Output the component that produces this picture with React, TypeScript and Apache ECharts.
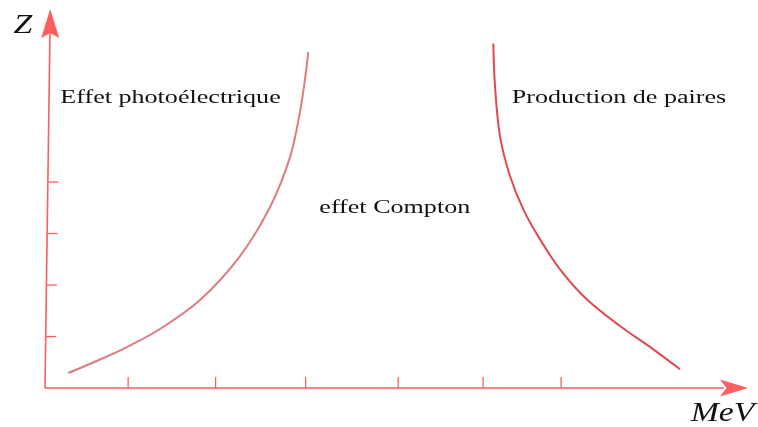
import React, { useEffect, useRef } from "react";
import * as echarts from "echarts";

// Tick positions (axis units)
const xTicks = [0.97, 1.99, 3.04, 4.12, 5.11, 6.02];
const yTicks = [1, 2, 3, 4];

// Axis extents
const xAxisEnd = 8.2;
const yAxisEnd = 7.36;
const yAxisTopX = 0.061;

// Photoelectric effect boundary
const photoX = [0.272, 0.642, 0.991, 1.341, 1.808, 2.275, 2.625, 2.858, 2.974, 3.039, 3.071];
const photoY = [0.291, 0.553, 0.825, 1.146, 1.709, 2.563, 3.515, 4.485, 5.359, 6.078, 6.524];

// Pair production boundary
const pairX = [5.229, 5.249, 5.307, 5.424, 5.579, 5.774, 6.007, 6.319, 6.707, 7.096, 7.407];
const pairY = [6.693, 5.864, 4.893, 4.117, 3.47, 2.887, 2.305, 1.722, 1.204, 0.751, 0.363];

// Region labels
const regionLabels = ["Effet photoélectrique", "effet Compton", "Production de paires"];
const regionX = [1.464, 4.08, 6.695];
const regionY = [5.65, 3.515, 5.66];

// Axis titles
const axisTitles = ["Z", "MeV"];
const axisTitleX = [-0.257, 7.903];
const axisTitleY = [7.06, -0.476];

const AXIS_COLOR = "#ff5e5e";

export default function App() {
  const ref = useRef<HTMLDivElement>(null);
  useEffect(() => {
    if (!ref.current) return;
    const chart = echarts.init(ref.current, null, { renderer: "svg" });

    const axesRender = (params: any, api: any) => {
      const o = api.coord([0, 0]);
      const xt = api.coord([xAxisEnd, 0]);
      const yt = api.coord([yAxisTopX, yAxisEnd]);
      const ls = { stroke: AXIS_COLOR, lineWidth: 1.6 };
      const children: any[] = [];
      children.push({ type: "line", shape: { x1: o[0], y1: o[1], x2: xt[0] - 24, y2: xt[1] }, style: ls });
      children.push({
        type: "polygon",
        shape: { points: [[xt[0], xt[1]], [xt[0] - 28, xt[1] - 8.5], [xt[0] - 21.5, xt[1]], [xt[0] - 28, xt[1] + 8.5]] },
        style: { fill: AXIS_COLOR },
      });
      children.push({ type: "line", shape: { x1: o[0], y1: o[1], x2: yt[0] - 0.3, y2: yt[1] + 24 }, style: ls });
      children.push({
        type: "polygon",
        shape: { points: [[yt[0], yt[1]], [yt[0] + 9, yt[1] + 29], [yt[0], yt[1] + 24], [yt[0] - 9, yt[1] + 29]] },
        style: { fill: AXIS_COLOR },
      });
      xTicks.forEach((v) => {
        const p = api.coord([v, 0]);
        children.push({ type: "line", shape: { x1: p[0], y1: p[1], x2: p[0], y2: p[1] - 11 }, style: { stroke: AXIS_COLOR, lineWidth: 1.3 } });
      });
      yTicks.forEach((v) => {
        const p = api.coord([(yAxisTopX * v) / yAxisEnd, v]);
        children.push({ type: "line", shape: { x1: p[0], y1: p[1], x2: p[0] + 10.5, y2: p[1] }, style: { stroke: AXIS_COLOR, lineWidth: 1.3 } });
      });
      return { type: "group", children };
    };

    const textRender = (fontSize: number, italic: boolean, scaleX: number, texts: string[]) =>
      (params: any, api: any) => {
        const p = api.coord([api.value(0), api.value(1)]);
        return {
          type: "text",
          x: p[0],
          y: p[1],
          scaleX,
          style: {
            text: texts[params.dataIndex],
            fontFamily: "Liberation Serif",
            fontSize,
            fontStyle: italic ? "italic" : "normal",
            fill: "#111",
            align: "center",
            verticalAlign: "middle",
          },
        };
      };

    chart.setOption({
      animation: false,
      grid: { left: 45, right: 10, top: 7, bottom: 39 },
      xAxis: { type: "value", min: 0, max: 8.2, show: false },
      yAxis: { type: "value", min: 0, max: 7.4, show: false },
      series: [
        {
          type: "custom",
          data: [[0, 0]],
          renderItem: axesRender,
          silent: true,
          clip: false,
        },
        {
          type: "line",
          data: photoX.map((x, i) => [x, photoY[i]]),
          smooth: 0.35,
          showSymbol: false,
          lineStyle: { color: "#de7b82", width: 2 },
          silent: true,
        },
        {
          type: "line",
          data: pairX.map((x, i) => [x, pairY[i]]),
          smooth: 0.35,
          showSymbol: false,
          lineStyle: { color: "#e04a4e", width: 2 },
          silent: true,
        },
        {
          type: "custom",
          data: regionX.map((x, i) => [x, regionY[i]]),
          renderItem: textRender(18, false, 1.45, regionLabels),
          silent: true,
          clip: false,
        },
        {
          type: "custom",
          data: axisTitleX.map((x, i) => [x, axisTitleY[i]]),
          renderItem: textRender(27, true, 1.25, axisTitles),
          silent: true,
          clip: false,
        },
      ],
    });
    return () => chart.dispose();
  }, []);
  return <div ref={ref} style={{ position: "fixed", left: 0, top: 0, width: 758, height: 427 }} />;
}
